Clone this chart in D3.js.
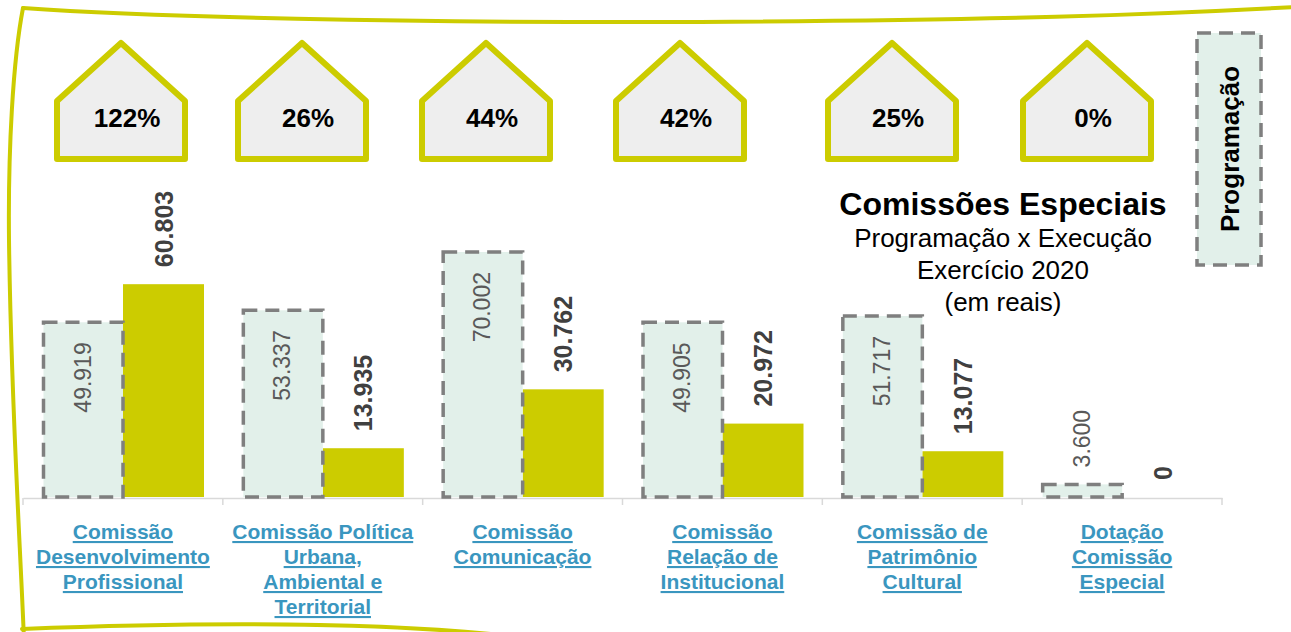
<!DOCTYPE html>
<html>
<head>
<meta charset="utf-8">
<script src="https://cdn.jsdelivr.net/npm/d3@7/dist/d3.min.js"></script>
<style>
  html, body { margin: 0; padding: 0; background: #fff; }
  svg { display: block; font-family: "Liberation Sans", Arial, sans-serif; }
</style>
</head>
<body>
<div id="chart"></div>
<script>
// chart data (values in reais)
var categoryLines = [
  ["Comissão", "Desenvolvimento", "Profissional"],
  ["Comissão Política", "Urbana,", "Ambiental e", "Territorial"],
  ["Comissão", "Comunicação"],
  ["Comissão", "Relação de", "Institucional"],
  ["Comissão de", "Patrimônio", "Cultural"],
  ["Dotação", "Comissão", "Especial"]
];
var programacao = [49919, 53337, 70002, 49905, 51717, 3600];
var execucao    = [60803, 13935, 30762, 20972, 13077, 0];
var seriesNames = ["Programação", "Execução"];
var titleLines  = ["Comissões Especiais", "Programação x Execução", "Exercício 2020", "(em reais)"];

// the houses were placed by hand in the original slide
var houseX = [121, 302, 486, 680, 892, 1087];

var width = 1291, height = 632;
var yellow = "#cccc00";
var mint = "#e2f0ea";

var categories = categoryLines.map(function(l){ return l.join(" "); });
var rows = categories.map(function(c, i){
  return {cat: c, lines: categoryLines[i], prog: programacao[i], exec: execucao[i]};
});

var svg = d3.select("#chart").append("svg")
  .attr("width", width)
  .attr("height", height);

// frame drawn like a sketched border
var frame = svg.append("g")
  .attr("fill", "none")
  .attr("stroke", yellow)
  .attr("stroke-width", 4)
  .attr("stroke-linecap", "round");
frame.append("path").attr("d", "M23,8 C150,17 400,23 700,22 C1000,20 1150,15 1295,7");
frame.append("path").attr("d", "M23,8 C13,60 8,150 9,240 C11,400 20,540 24,640");
frame.append("path").attr("d", "M22,629 C200,622 400,621 545,640");

var x = d3.scaleBand()
  .domain(categories)
  .range([23, 1222])
  .padding(0);

var x1 = d3.scaleBand()
  .domain(seriesNames)
  .range([19, 181])
  .padding(0);

var y = d3.scaleLinear()
  .domain([0, 80000])
  .range([497, 217]);

var fmt = d3.formatLocale({decimal: ",", thousands: ".", grouping: [3], currency: ["R$", ""]}).format(",d");

// houses with the execution ratio
var house = svg.append("g").selectAll("g")
  .data(rows)
  .enter().append("g")
  .attr("transform", function(d, i){ return "translate(" + houseX[i] + ",0)"; });

house.append("path")
  .attr("d", "M0,43 L64,101 L64,159 L-64,159 L-64,101 Z")
  .attr("fill", "#eeeeee")
  .attr("stroke", yellow)
  .attr("stroke-width", 6)
  .attr("stroke-linejoin", "round");

house.append("text")
  .attr("x", 6)
  .attr("y", 127)
  .attr("text-anchor", "middle")
  .attr("font-size", 26)
  .attr("font-weight", "bold")
  .attr("fill", "#000")
  .text(function(d){ return (d.prog ? Math.round(d.exec / d.prog * 100) : 0) + "%"; });

// axis
var axis = svg.append("g")
  .attr("transform", "translate(0," + 498 + ")")
  .call(d3.axisBottom(x).tickSize(0).tickSizeOuter(0).tickFormat(""));
axis.select(".domain").attr("stroke", "#d9d9d9").attr("stroke-width", 1.5);
axis.selectAll(".tick").remove();

var bounds = categories.map(function(c){ return x(c); }).concat([x(categories[categories.length - 1]) + x.bandwidth()]);
axis.selectAll(".bound")
  .data(bounds)
  .enter().append("line")
  .attr("class", "bound")
  .attr("x1", function(d){ return d; })
  .attr("x2", function(d){ return d; })
  .attr("y1", 0)
  .attr("y2", 7)
  .attr("stroke", "#d9d9d9")
  .attr("stroke-width", 1.5);

// bars
var group = svg.append("g").selectAll("g")
  .data(rows)
  .enter().append("g")
  .attr("transform", function(d){ return "translate(" + x(d.cat) + ",0)"; });

group.append("rect")
  .attr("x", x1("Execução"))
  .attr("width", x1.bandwidth())
  .attr("y", function(d){ return y(d.exec); })
  .attr("height", function(d){ return y(0) - y(d.exec); })
  .attr("fill", yellow);

group.append("rect")
  .attr("x", x1("Programação") + 1.5)
  .attr("width", x1.bandwidth() - 1.5)
  .attr("y", function(d){ return y(d.prog); })
  .attr("height", function(d){ return y(0) - y(d.prog); })
  .attr("fill", mint)
  .attr("stroke", "#7f7f7f")
  .attr("stroke-width", 3.5)
  .attr("stroke-dasharray", "14 8");

// value labels for Programação (inside the bar, or above if it is too short)
group.append("text")
  .attr("transform", function(d){
    var cx = x1("Programação") + x1.bandwidth() / 2;
    var h = y(0) - y(d.prog);
    var yy = h > 100 ? y(d.prog) + 20 : y(d.prog) - 17;
    return "translate(" + cx + "," + yy + ") rotate(-90)";
  })
  .attr("text-anchor", function(d){ return (y(0) - y(d.prog)) > 100 ? "end" : "start"; })
  .attr("dominant-baseline", "central")
  .attr("font-size", 23)
  .attr("fill", "#595959")
  .text(function(d){ return fmt(d.prog); });

// value labels for Execução (above the bar)
group.append("text")
  .attr("transform", function(d){
    var cx = x1("Execução") + x1.bandwidth() / 2;
    return "translate(" + cx + "," + (y(d.exec) - 17) + ") rotate(-90)";
  })
  .attr("text-anchor", "start")
  .attr("dominant-baseline", "central")
  .attr("font-size", 25)
  .attr("font-weight", "bold")
  .attr("fill", "#404040")
  .text(function(d){ return fmt(d.exec); });

// category labels
var catText = group.append("text")
  .attr("text-anchor", "middle")
  .attr("font-size", 21)
  .attr("font-weight", "bold")
  .attr("fill", "#3a96bf")
  .attr("text-decoration", "underline");

catText.selectAll("tspan")
  .data(function(d){ return d.lines; })
  .enter().append("tspan")
  .attr("x", x.bandwidth() / 2)
  .attr("y", function(d, i){ return 539 + i * 25; })
  .text(function(d){ return d; });

// title
var title = svg.append("text")
  .attr("text-anchor", "middle")
  .attr("fill", "#000");
title.selectAll("tspan")
  .data(titleLines)
  .enter().append("tspan")
  .attr("x", 1003)
  .attr("y", function(d, i){ return i == 0 ? 215 : 215 + i * 32; })
  .attr("font-size", function(d, i){ return i == 0 ? 32 : 26; })
  .attr("font-weight", function(d, i){ return i == 0 ? "bold" : "normal"; })
  .text(function(d){ return d; });

// legend (only the Programação entry is shown)
var legend = svg.append("g");
legend.append("rect")
  .attr("x", 1197)
  .attr("y", 33)
  .attr("width", 64)
  .attr("height", 232)
  .attr("fill", mint)
  .attr("stroke", "#7f7f7f")
  .attr("stroke-width", 3.5)
  .attr("stroke-dasharray", "14 8");
legend.append("text")
  .attr("transform", "translate(1230,149) rotate(-90)")
  .attr("text-anchor", "middle")
  .attr("dominant-baseline", "central")
  .attr("font-size", 26)
  .attr("font-weight", "bold")
  .attr("fill", "#000")
  .text(seriesNames[0]);
</script>
</body>
</html>
